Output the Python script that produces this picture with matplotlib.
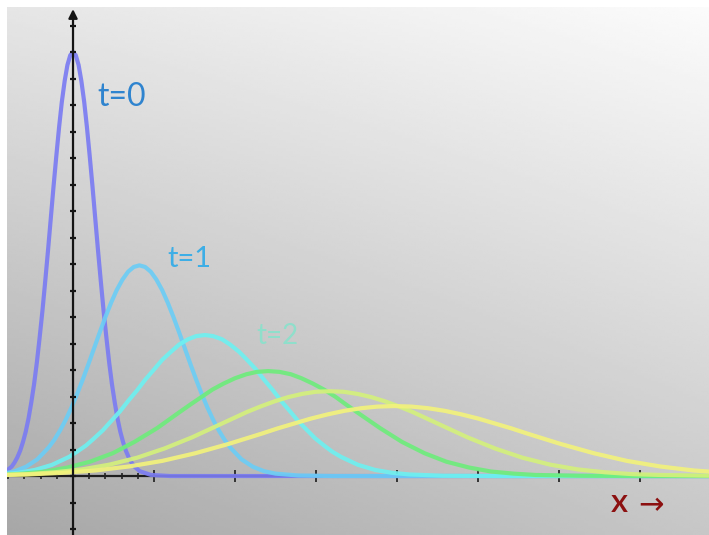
import numpy as np
import matplotlib
matplotlib.use('Agg')
import matplotlib.pyplot as plt

# curves (x in major-tick units, y in y-tick units)
x0 = [-0.963, -0.825, -0.756, -0.722, -0.688, -0.653, -0.619, -0.584, -0.55, -0.516, -0.481, -0.447,
      -0.413, -0.378, -0.344, -0.309, -0.275, -0.241, -0.206, -0.172, -0.138, -0.103, -0.069, -0.034,
      0.0,
      0.034, 0.069, 0.103, 0.138, 0.172, 0.206, 0.241, 0.275, 0.309, 0.344, 0.378, 0.413,
      0.447, 0.481, 0.516, 0.55, 0.584, 0.619, 0.653, 0.688, 0.722, 0.756, 0.825, 0.963, 1.2, 8.0]
y0 = [0.04, 0.18, 0.36, 0.51, 0.70, 0.95, 1.27, 1.67, 2.16, 2.76, 3.46, 4.27,
      5.20, 6.22, 7.32, 8.50, 9.70, 10.91, 12.08, 13.16, 14.12, 14.91, 15.51, 15.88,
      16.0,
      15.88, 15.51, 14.91, 14.12, 13.16, 12.08, 10.91, 9.70, 8.50, 7.32, 6.22, 5.20,
      4.27, 3.46, 2.76, 2.16, 1.67, 1.27, 0.95, 0.70, 0.51, 0.36, 0.18, 0.04, 0.0, 0.0]

x1 = [-0.86, -0.72, -0.58, -0.44, -0.30, -0.23, -0.16, -0.09, -0.02, 0.05, 0.12, 0.19, 0.26, 0.33,
      0.40, 0.47, 0.54, 0.61, 0.68, 0.75, 0.82, 0.89, 0.96, 1.03, 1.10, 1.17, 1.24, 1.31, 1.38,
      1.45, 1.52, 1.59, 1.66, 1.73, 1.80, 1.87, 1.94, 2.08, 2.22, 2.36, 2.50, 2.78, 3.2, 8.0]
y1 = [0.09, 0.18, 0.35, 0.63, 1.08, 1.37, 1.72, 2.12, 2.58, 3.09, 3.64, 4.22, 4.82, 5.42,
      6.00, 6.54, 7.02, 7.41, 7.71, 7.89, 7.95, 7.89, 7.71, 7.41, 7.02, 6.54, 6.00, 5.42, 4.82,
      4.22, 3.64, 3.09, 2.58, 2.12, 1.72, 1.37, 1.08, 0.63, 0.35, 0.18, 0.09, 0.02, 0.0, 0.0]

x2 = [-0.89, -0.68, -0.47, -0.26, -0.05, 0.05, 0.16, 0.26, 0.37, 0.47, 0.58, 0.68, 0.79, 0.89,
      1.00, 1.10, 1.21, 1.31, 1.42, 1.52, 1.63, 1.73, 1.84, 1.94, 2.05, 2.15, 2.26, 2.36, 2.47,
      2.57, 2.68, 2.78, 2.89, 2.99, 3.10, 3.20, 3.31, 3.52, 3.73, 3.94, 4.15, 4.57, 5.2, 8.0]
y2 = [0.06, 0.12, 0.23, 0.42, 0.72, 0.92, 1.15, 1.42, 1.73, 2.07, 2.44, 2.83, 3.23, 3.63,
      4.02, 4.38, 4.69, 4.96, 5.16, 5.28, 5.32, 5.28, 5.16, 4.96, 4.69, 4.38, 4.02, 3.63, 3.23,
      2.83, 2.44, 2.07, 1.73, 1.42, 1.15, 0.92, 0.72, 0.42, 0.23, 0.12, 0.06, 0.01, 0.0, 0.0]

x3 = [-0.89, -0.62, -0.34, -0.07, 0.21, 0.49, 0.76, 1.04, 1.31, 1.45, 1.59, 1.72, 1.86, 2.00,
      2.14, 2.27, 2.41, 2.55, 2.69, 2.82, 2.96, 3.10, 3.24, 3.37, 3.51, 3.79, 4.06, 4.34, 4.61,
      4.89, 5.16, 5.44, 5.71, 6.26, 7.0, 8.0]
y3 = [0.04, 0.09, 0.17, 0.32, 0.54, 0.86, 1.29, 1.81, 2.40, 2.70, 2.99, 3.26, 3.49, 3.69,
      3.84, 3.93, 3.96, 3.93, 3.84, 3.69, 3.49, 3.26, 2.99, 2.70, 2.40, 1.81, 1.29, 0.86, 0.54,
      0.32, 0.17, 0.09, 0.04, 0.01, 0.0, 0.0]

x4 = [-0.91, -0.57, -0.23, 0.11, 0.45, 0.79, 1.13, 1.47, 1.81, 1.98, 2.15, 2.32, 2.49, 2.66,
      2.83, 3.00, 3.17, 3.34, 3.51, 3.68, 3.85, 4.02, 4.19, 4.36, 4.53, 4.87, 5.21, 5.55, 5.89,
      6.23, 6.57, 6.91, 7.25, 7.93]
y4 = [0.04, 0.07, 0.14, 0.25, 0.43, 0.69, 1.04, 1.46, 1.94, 2.18, 2.42, 2.63, 2.82, 2.98,
      3.10, 3.18, 3.20, 3.18, 3.10, 2.98, 2.82, 2.63, 2.42, 2.18, 1.94, 1.46, 1.04, 0.69, 0.43,
      0.25, 0.14, 0.07, 0.04, 0.01]

x5 = [-0.95, -0.54, -0.13, 0.28, 0.69, 1.10, 1.51, 1.92, 2.33, 2.53, 2.74, 2.94, 3.15, 3.35,
      3.56, 3.76, 3.97, 4.18, 4.38, 4.59, 4.79, 5.00, 5.20, 5.41, 5.61, 6.02, 6.43, 6.84, 7.25,
      7.66, 8.07]
y5 = [0.03, 0.06, 0.12, 0.21, 0.36, 0.57, 0.86, 1.21, 1.60, 1.80, 1.99, 2.17, 2.33, 2.46,
      2.56, 2.62, 2.64, 2.62, 2.56, 2.46, 2.33, 2.17, 1.99, 1.80, 1.60, 1.21, 0.86, 0.57, 0.36,
      0.21, 0.12]

curves = [(x0, y0), (x1, y1), (x2, y2), (x3, y3), (x4, y4), (x5, y5)]
colors = ['#7b7cf2', '#6ccdf5', '#6ef0f0', '#6eec7c', '#d4f07c', '#f2f27c']

labels = ['t=0', 't=1', 't=2']
label_pos = [(0.6, 14.3), (1.44, 8.2), (2.53, 5.3)]
label_colors = ['#2f84cf', '#3daee6', '#8fdfcb']
label_sizes = [23, 21, 20]

yticks = list(range(-2, 18))
xminor = [-0.8, -0.6, -0.4, -0.2, 0.2, 0.4, 0.6, 0.8]
xmajor = [1, 2, 3, 4, 5, 6, 7]

fig = plt.figure(figsize=(7.09, 5.35), dpi=100, facecolor='white')
ax = fig.add_axes([7 / 709, 0, 702 / 709, 528 / 535])
ax.set_axis_off()

# grey gradient background, light at top right
g = np.linspace(0, 1, 200)
gx, gy = np.meshgrid(g, g)
tl, tr, bl, br = 0.90, 0.985, 0.655, 0.78
bg = tl * (1 - gx) * (1 - gy) + tr * gx * (1 - gy) + bl * (1 - gx) * gy + br * gx * gy
ax.imshow(bg, cmap='gray', vmin=0, vmax=1, extent=[0, 1, 0, 1], transform=ax.transAxes,
          aspect='auto', interpolation='bilinear', zorder=0)

xlim = (-0.815, 7.852)
ylim = (-2.226, 17.70)

# x axis and ticks
ax.plot(xlim, [0, 0], color='#1e1e1e', lw=1.6, zorder=1)
ax.plot(xminor, [0] * len(xminor), ls='none', marker='|', ms=5, mew=1.2, color='#222222', zorder=1)
ax.plot(xmajor, [0] * len(xmajor), ls='none', marker='|', ms=8, mew=1.4, color='#333333', zorder=1)

for (xs, ys), c in zip(curves, colors):
    ax.plot(xs, ys, color=c, lw=3.0, alpha=0.92, solid_joinstyle='round',
            solid_capstyle='round', zorder=2)

# y axis with arrow
ax.annotate('', xy=(0, 17.62), xytext=(0, ylim[0]),
            arrowprops=dict(arrowstyle='-|>', color='#151515', lw=1.6, mutation_scale=13,
                            shrinkA=0, shrinkB=0), zorder=3)
ax.plot([0] * len(yticks), yticks, ls='none', marker='_', ms=5, mew=1.6, color='#151515', zorder=3)

for txt, (tx, ty), c, s in zip(labels, label_pos, label_colors, label_sizes):
    ax.text(tx, ty, txt, color=c, fontsize=s, family=['Lato', 'DejaVu Sans'],
            ha='center', va='center', zorder=4)

ax.text(6.74, -1.36, 'x', color='#8c1010', fontsize=24, fontweight='semibold',
        family=['Lato', 'DejaVu Sans'], ha='center', va='baseline', zorder=4)
ax.text(7.14, -1.42, '→', color='#8c1010', fontsize=22,
        family=['DejaVu Sans'], ha='center', va='baseline', zorder=4)

ax.set_xlim(*xlim)
ax.set_ylim(*ylim)

fig.savefig('out.png', dpi=100, facecolor='white')
